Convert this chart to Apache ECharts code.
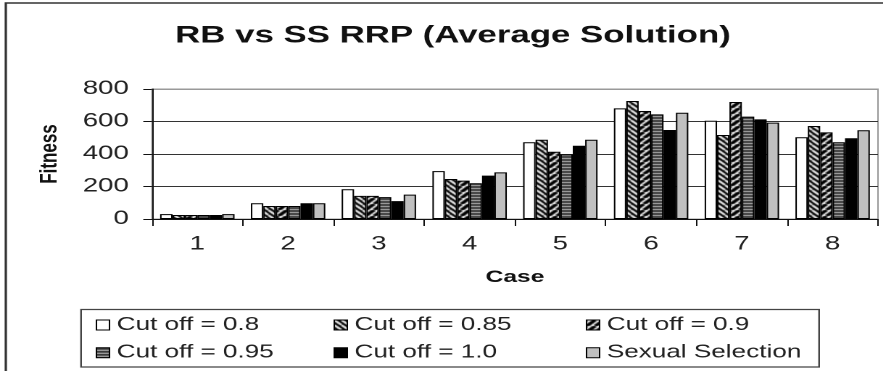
<!DOCTYPE html>
<html>
<head>
<meta charset="utf-8">
<script src="https://cdn.jsdelivr.net/npm/echarts@6/dist/echarts.min.js"></script>
<style>
  html, body { margin: 0; padding: 0; background: #fff; overflow: hidden; }
  /* The figure is drawn on a narrower canvas and widened horizontally */
  #chart { width: 609px; height: 371px; transform: scaleX(1.45); transform-origin: 0 0; }
</style>
</head>
<body>
<div id="chart"></div>
<script>
// ---- data ----
const cases = ['1', '2', '3', '4', '5', '6', '7', '8'];
const seriesNames = ['Cut off = 0.8', 'Cut off = 0.85', 'Cut off = 0.9', 'Cut off = 0.95', 'Cut off = 1.0', 'Sexual Selection'];
const cut080 = [30, 97, 183, 295, 472, 681, 605, 503];
const cut085 = [25, 80, 142, 246, 488, 726, 517, 572];
const cut090 = [25, 80, 142, 236, 414, 665, 720, 533];
const cut095 = [25, 80, 135, 220, 398, 644, 630, 472];
const cut100 = [25, 97, 110, 267, 451, 548, 613, 497];
const sexualSel = [30, 97, 150, 287, 488, 654, 593, 546];
const yTicks = { min: 0, max: 800, step: 200 };

// ---- fill textures ----
function stripes(size, bg, fg, width, dir) {
  const c = document.createElement('canvas');
  c.width = size; c.height = size;
  const g = c.getContext('2d');
  g.fillStyle = bg; g.fillRect(0, 0, size, size);
  g.strokeStyle = fg; g.lineWidth = width;
  for (let k = -1; k <= 1; k++) {
    g.beginPath();
    if (dir > 0) { g.moveTo(k * size, size); g.lineTo(k * size + size, 0); }
    else { g.moveTo(k * size, 0); g.lineTo(k * size + size, size); }
    g.stroke();
  }
  return { image: c, repeat: 'repeat' };
}
function hlines() {
  const c = document.createElement('canvas');
  c.width = 4; c.height = 3;
  const g = c.getContext('2d');
  g.fillStyle = '#3a3a3a'; g.fillRect(0, 0, 4, 2);
  g.fillStyle = '#b8b8b8'; g.fillRect(0, 2, 4, 1);
  return { image: c, repeat: 'repeat' };
}

const fills = [
  '#ffffff',
  stripes(5, '#000000', '#ffffff', 1.6, -1),
  stripes(6, '#ffffff', '#000000', 3, 1),
  hlines(),
  '#000000',
  '#c0c0c0'
];
const values = [cut080, cut085, cut090, cut095, cut100, sexualSel];

const font = "'Liberation Sans', Arial, sans-serif";

const chart = echarts.init(document.getElementById('chart'), null, { renderer: 'canvas', devicePixelRatio: 2 });

const legendBase = {
  orient: 'vertical',
  top: 316,
  padding: 0,
  itemGap: 9.7,
  itemWidth: 9,
  itemHeight: 10,
  icon: 'rect',
  selectedMode: false,
  itemStyle: { borderColor: '#000', borderWidth: 1 },
  textStyle: { fontFamily: font, fontSize: 18, color: '#222', lineHeight: 18 }
};

chart.setOption({
  animation: false,
  backgroundColor: '#ffffff',
  grid: {
    left: 104.8, right: 3.5, top: 89, bottom: 152,
    show: true, borderColor: '#999', borderWidth: 1, backgroundColor: 'transparent'
  },
  xAxis: {
    type: 'category',
    data: cases,
    name: 'Case',
    nameLocation: 'middle',
    nameGap: 50,
    nameTextStyle: { fontFamily: font, fontSize: 17, fontWeight: 'bold', color: '#111' },
    axisLine: { lineStyle: { color: '#111', width: 1 } },
    axisTick: { show: true, length: 7, lineStyle: { color: '#111' } },
    axisLabel: { fontFamily: font, fontSize: 19, color: '#222', margin: 16 }
  },
  yAxis: {
    type: 'value',
    min: yTicks.min, max: yTicks.max, interval: yTicks.step,
    name: 'Fitness',
    nameLocation: 'middle',
    nameGap: 62,
    nameRotate: 90,
    nameTextStyle: { fontFamily: font, fontSize: 17, fontWeight: 'bold', color: '#111' },
    axisLine: { show: true, lineStyle: { color: '#111', width: 1 } },
    axisTick: { show: true, length: 6, lineStyle: { color: '#111' } },
    axisLabel: { fontFamily: font, fontSize: 19, color: '#222', margin: 16 },
    splitLine: { show: true, lineStyle: { color: ['#333', '#333', '#333', '#333', '#999'], width: 1 } }
  },
  legend: [
    Object.assign({}, legendBase, { left: 66, data: [seriesNames[0], seriesNames[3]] }),
    Object.assign({}, legendBase, { left: 230, data: [seriesNames[1], seriesNames[4]] }),
    Object.assign({}, legendBase, { left: 404, data: [seriesNames[2], seriesNames[5]] })
  ],
  series: seriesNames.map((name, i) => ({
    name: name,
    type: 'bar',
    data: values[i],
    barGap: '0%',
    barCategoryGap: '18%',
    itemStyle: { color: fills[i], borderColor: '#000', borderWidth: 1 }
  })),
  graphic: [
    {
      type: 'rect', silent: true, z: -1,
      shape: { x: 4, y: 3, width: 700, height: 500 },
      style: { fill: 'none', stroke: '#333', lineWidth: 1.6 }
    },
    {
      type: 'text', silent: true,
      style: {
        text: 'RB vs SS RRP (Average Solution)',
        x: 312.4, y: 36,
        textAlign: 'center', textVerticalAlign: 'middle',
        font: "bold 24px 'Liberation Sans', Arial, sans-serif",
        fill: '#111'
      }
    },
    {
      type: 'rect', silent: true,
      shape: { x: 55.9, y: 309.5, width: 509, height: 57.5 },
      style: { fill: 'none', stroke: '#444', lineWidth: 1.2 }
    }
  ]
});
</script>
</body>
</html>
